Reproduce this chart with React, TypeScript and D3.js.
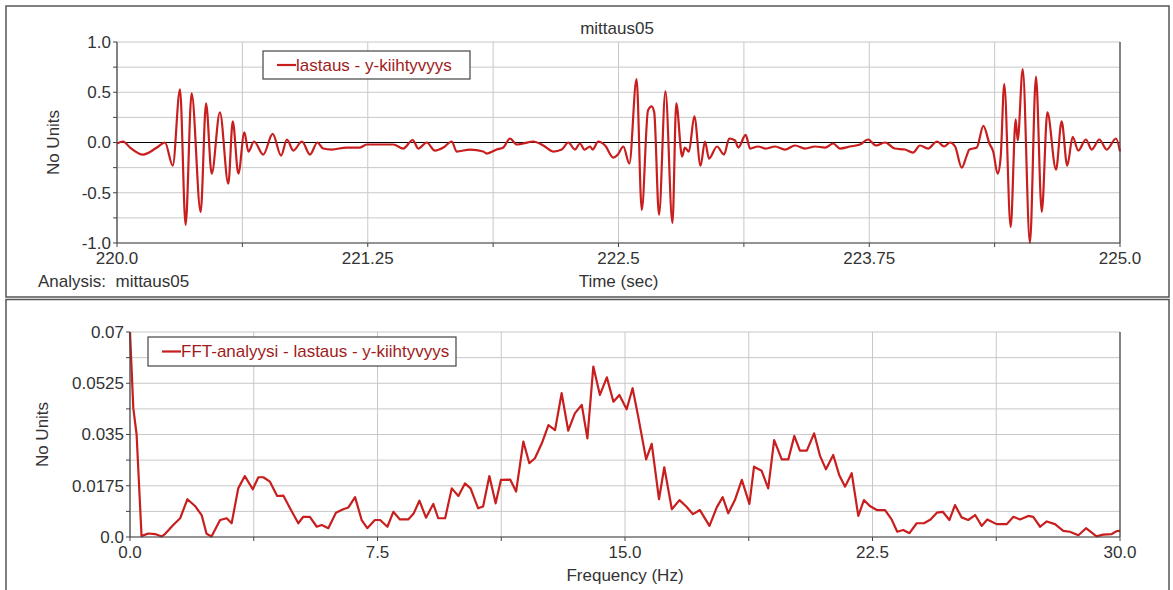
import * as d3 from "d3";
import React from "react";

// top panel: acceleration signal (time, value)
const sigTime = [
  220.0, 220.03, 220.065, 220.13, 220.199, 220.239, 220.278, 220.314, 220.342, 220.372,
  220.417, 220.444, 220.472, 220.513, 220.555, 220.577, 220.605, 220.635, 220.655, 220.683,
  220.729, 220.776, 220.818, 220.847, 220.879, 220.922, 220.962, 220.999, 221.028, 221.07,
  221.145, 221.211, 221.245, 221.295, 221.377, 221.427, 221.474, 221.502, 221.544, 221.585,
  221.627, 221.669, 221.693, 221.76, 221.826, 221.843, 221.893, 221.926, 221.959, 221.993,
  222.025, 222.075, 222.125, 222.175, 222.217, 222.25, 222.283, 222.308, 222.33, 222.358,
  222.371, 222.399, 222.433, 222.474, 222.497, 222.524, 222.554, 222.59, 222.616, 222.647,
  222.665, 222.678, 222.702, 222.734, 222.769, 222.788, 222.817, 222.831, 222.851, 222.878,
  222.909, 222.931, 222.951, 222.991, 223.026, 223.052, 223.081, 223.097, 223.134, 223.156,
  223.195, 223.235, 223.28, 223.33, 223.38, 223.43, 223.48, 223.53, 223.57, 223.604,
  223.654, 223.704, 223.744, 223.784, 223.829, 223.878, 223.928, 223.968, 224.003, 224.043,
  224.088, 224.123, 224.153, 224.178, 224.211, 224.236, 224.249, 224.286, 224.319, 224.349,
  224.368, 224.39, 224.405, 224.423, 224.455, 224.48, 224.49, 224.515, 224.551, 224.581,
  224.61, 224.638, 224.681, 224.709, 224.737, 224.764, 224.792, 224.83, 224.859, 224.897,
  224.934, 224.98, 225.0,
];
const sigValue = [
  -0.01, 0.01, -0.05, -0.12, -0.05, 0.0, -0.23, 0.53, -0.82, 0.49,
  -0.69, 0.39, -0.31, 0.3, -0.41, 0.21, -0.31, 0.1, -0.09, 0.01,
  -0.12, 0.085, -0.13, 0.03, -0.08, 0.01, -0.12, 0.0, -0.06, -0.07,
  -0.05, -0.05, -0.02, -0.02, -0.02, -0.06, 0.025, -0.06, 0.0, -0.08,
  -0.05, 0.01, -0.09, -0.07, -0.09, -0.11, -0.07, -0.05, 0.04, -0.02,
  -0.01, 0.01, -0.03, -0.09, -0.07, 0.0, -0.07, -0.01, -0.07, -0.04,
  -0.07, 0.01, -0.03, -0.15, -0.12, -0.04, -0.21, 0.63, -0.67, 0.32,
  0.36, 0.3, -0.72, 0.51, -0.8, 0.39, -0.14, -0.05, -0.09, 0.26,
  -0.23, 0.01, -0.16, -0.04, -0.12, 0.04, 0.02, -0.05, 0.075, -0.06,
  -0.04, -0.06, -0.04, -0.07, -0.03, -0.06, -0.04, -0.05, -0.01, -0.06,
  -0.04, -0.02, 0.03, -0.03, 0.0, -0.06, -0.07, -0.1, -0.03, -0.06,
  0.01, -0.04, 0.0, -0.04, -0.25, -0.13, -0.07, -0.05, 0.165, -0.01,
  -0.09, -0.31, -0.15, 0.58, -0.84, 0.23, 0.02, 0.73, -1.0, 0.655,
  -0.69, 0.3, -0.27, 0.21, -0.23, 0.055, -0.08, 0.03, -0.07, 0.03,
  -0.07, 0.04, -0.09,
];

// bottom panel: FFT spectrum (frequency, amplitude)
const fftFreq = [
  0.0, 0.1, 0.2, 0.35, 0.55, 0.76, 0.96, 1.06, 1.31, 1.52,
  1.74, 1.97, 2.17, 2.32, 2.47, 2.73, 2.93, 3.08, 3.28, 3.48,
  3.72, 3.89, 4.04, 4.24, 4.46, 4.65, 4.85, 5.1, 5.25, 5.45,
  5.66, 5.81, 6.01, 6.24, 6.46, 6.62, 6.82, 7.02, 7.19, 7.42,
  7.58, 7.8, 7.98, 8.18, 8.43, 8.59, 8.77, 8.97, 9.19, 9.34,
  9.55, 9.75, 9.95, 10.15, 10.32, 10.55, 10.7, 10.89, 11.08, 11.24,
  11.52, 11.7, 11.92, 12.1, 12.27, 12.48, 12.68, 12.88, 13.08, 13.28,
  13.48, 13.69, 13.86, 14.04, 14.24, 14.45, 14.65, 14.83, 15.05, 15.23,
  15.4, 15.64, 15.81, 16.03, 16.19, 16.42, 16.65, 16.85, 17.06, 17.27,
  17.56, 17.78, 17.96, 18.13, 18.33, 18.54, 18.77, 18.91, 19.14, 19.34,
  19.52, 19.75, 19.95, 20.13, 20.3, 20.51, 20.73, 20.91, 21.09, 21.31,
  21.49, 21.67, 21.87, 22.07, 22.24, 22.42, 22.63, 22.88, 23.08, 23.25,
  23.43, 23.62, 23.84, 24.06, 24.26, 24.45, 24.63, 24.83, 25.0, 25.2,
  25.4, 25.61, 25.81, 25.98, 26.26, 26.57, 26.77, 26.97, 27.22, 27.37,
  27.58, 27.78, 28.03, 28.28, 28.48, 28.74, 28.97, 29.29, 29.49, 29.75,
  29.9, 30.0,
];
const fftAmp = [
  0.07, 0.044, 0.035, 0.0003, 0.0012, 0.001, 0.0002, 0.001, 0.0041, 0.0064,
  0.0129, 0.0106, 0.0075, 0.0011, 0.0002, 0.0058, 0.0064, 0.0047, 0.0166, 0.0208,
  0.0163, 0.0204, 0.0204, 0.0189, 0.014, 0.0141, 0.0098, 0.0047, 0.0069, 0.0069,
  0.0035, 0.0041, 0.003, 0.0083, 0.0095, 0.0101, 0.0136, 0.0058, 0.003, 0.0058,
  0.0058, 0.0035, 0.0086, 0.006, 0.006, 0.0079, 0.0124, 0.0066, 0.0113, 0.0064,
  0.0064, 0.0166, 0.014, 0.0183, 0.0166, 0.0098, 0.0104, 0.0208, 0.0115, 0.0195,
  0.0196, 0.0155, 0.0326, 0.0252, 0.0269, 0.032, 0.0382, 0.0365, 0.0491, 0.0363,
  0.0422, 0.0451, 0.0337, 0.0582, 0.0485, 0.0545, 0.0462, 0.0485, 0.0436, 0.0508,
  0.0411, 0.0265, 0.0318, 0.0129, 0.0238, 0.0095, 0.0126, 0.0105, 0.0078, 0.0092,
  0.0038, 0.0101, 0.0136, 0.0081, 0.0126, 0.0195, 0.0113, 0.024, 0.0226, 0.0166,
  0.0331, 0.0265, 0.0265, 0.0345, 0.0295, 0.0295, 0.0354, 0.0277, 0.0231, 0.028,
  0.0212, 0.0172, 0.0218, 0.0072, 0.0126, 0.0106, 0.0092, 0.0092, 0.006, 0.0018,
  0.0024, 0.0013, 0.0047, 0.0047, 0.006, 0.0083, 0.0086, 0.0058, 0.0109, 0.0067,
  0.0058, 0.0075, 0.0038, 0.006, 0.0044, 0.0044, 0.0069, 0.006, 0.0072, 0.0069,
  0.0035, 0.0053, 0.0044, 0.0021, 0.0018, 0.0006, 0.003, 0.0002, 0.0008, 0.001,
  0.002, 0.0021,
];

const timeTicks = [220, 221.25, 222.5, 223.75, 225];
const timeTickLabels = ["220.0", "221.25", "222.5", "223.75", "225.0"];
const accelTicks = [1, 0.5, 0, -0.5, -1];
const accelTickLabels = ["1.0", "0.5", "0.0", "-0.5", "-1.0"];
const freqTicks = [0, 7.5, 15, 22.5, 30];
const freqTickLabels = ["0.0", "7.5", "15.0", "22.5", "30.0"];
const ampTicks = [0.07, 0.0525, 0.035, 0.0175, 0];
const ampTickLabels = ["0.07", "0.0525", "0.035", "0.0175", "0.0"];

const FONT = "'Liberation Sans', Arial, sans-serif";
const FS = 17;
const TXT = "#333";
const GRID = "#c8c8c8";
const AXIS = "#444";
const LINE = "#c81e1e";
const LEG_TXT = "#a01c1c";

function Panel({
  x, y, xTicks, xLabels, yTicks, yLabels, xMinor, yMinor, xs, ys, curve, zeroLine,
  xTitle, yTitleX, legend, legendBox,
}: any) {
  const [x0, x1] = x.range();
  const [yb, yt] = y.range();
  const line = d3
    .line<number>()
    .x((i) => x(xs[i]))
    .y((i) => y(ys[i]))
    .curve(curve);
  const idx = d3.range(xs.length);
  const [lx, ly, lw, lh] = legendBox;
  return (
    <g>
      {xMinor.map((v: number) => (
        <line key={"gx" + v} x1={x(v)} x2={x(v)} y1={yt} y2={yb} stroke={GRID} />
      ))}
      {yMinor.map((v: number) => (
        <line key={"gy" + v} x1={x0} x2={x1} y1={y(v)} y2={y(v)} stroke={GRID} />
      ))}
      {zeroLine && <line x1={x0} x2={x1} y1={y(0)} y2={y(0)} stroke="#000" />}
      <path d={line(idx) || ""} fill="none" stroke={LINE} strokeWidth={2.2} strokeLinejoin="round" />
      <line x1={x0} x2={x0} y1={yt} y2={yb} stroke={AXIS} strokeWidth={1.2} />
      <line x1={x1} x2={x1} y1={yt} y2={yb} stroke={AXIS} strokeWidth={1.2} />
      <line x1={x0} x2={x1} y1={yb} y2={yb} stroke={AXIS} strokeWidth={1.2} />
      {yMinor.map((v: number) => (
        <line key={"ty" + v} x1={x0 - 4} x2={x0} y1={y(v)} y2={y(v)} stroke={AXIS} />
      ))}
      {xMinor.map((v: number) => (
        <line key={"tx" + v} x1={x(v)} x2={x(v)} y1={yb} y2={yb + 4} stroke={AXIS} />
      ))}
      {yTicks.map((v: number, i: number) => (
        <text key={"ly" + v} x={x0 - 6} y={y(v)} dy="0.35em" textAnchor="end" fill={TXT} fontSize={FS}>
          {yLabels[i]}
        </text>
      ))}
      {xTicks.map((v: number, i: number) => (
        <text key={"lx" + v} x={x(v)} y={yb + 21} textAnchor="middle" fill={TXT} fontSize={FS}>
          {xLabels[i]}
        </text>
      ))}
      <text x={(x0 + x1) / 2} y={yb + 44} textAnchor="middle" fill={TXT} fontSize={FS}>
        {xTitle}
      </text>
      <text
        transform={`translate(${yTitleX},${(yt + yb) / 2}) rotate(-90)`}
        textAnchor="middle"
        dy="0.35em"
        fill={TXT}
        fontSize={FS}
      >
        No Units
      </text>
      <rect x={lx} y={ly} width={lw} height={lh} fill="#fff" stroke={AXIS} strokeWidth={1.2} />
      <line x1={lx + 14} x2={lx + 33} y1={ly + lh / 2} y2={ly + lh / 2} stroke={LINE} strokeWidth={2.2} />
      <text x={lx + 33} y={ly + lh / 2} dy="0.35em" fill={LEG_TXT} fontSize={FS}>
        {legend}
      </text>
    </g>
  );
}

export default function App() {
  const xTop = d3.scaleLinear().domain([220, 225]).range([117, 1120]);
  const yTop = d3.scaleLinear().domain([-1, 1]).range([243, 42]);
  const xBot = d3.scaleLinear().domain([0, 30]).range([130, 1120]);
  const yBot = d3.scaleLinear().domain([0, 0.07]).range([537, 332]);

  return (
    <svg
      width={1173}
      height={590}
      style={{ position: "absolute", left: 0, top: 0, background: "#fff" }}
      fontFamily={FONT}
    >
      <rect x={6} y={6} width={1163} height={291} fill="#fff" stroke="#555" strokeWidth={1.5} />
      <rect x={6} y={299.5} width={1163} height={300} fill="#fff" stroke="#555" strokeWidth={1.5} />
      <text x={617} y={28} dy="0.35em" textAnchor="middle" fill={TXT} fontSize={FS}>
        mittaus05
      </text>
      <text x={38} y={281} dy="0.35em" fill={TXT} fontSize={FS} style={{ whiteSpace: "pre" }}>
        {"Analysis:  mittaus05"}
      </text>
      <Panel
        x={xTop}
        y={yTop}
        xTicks={timeTicks}
        xLabels={timeTickLabels}
        yTicks={accelTicks}
        yLabels={accelTickLabels}
        xMinor={d3.range(220, 225.001, 0.625)}
        yMinor={d3.range(-1, 1.001, 0.25)}
        xs={sigTime}
        ys={sigValue}
        curve={d3.curveMonotoneX}
        zeroLine
        xTitle="Time (sec)"
        yTitleX={53}
        legend="lastaus - y-kiihtyvyys"
        legendBox={[263, 51, 207, 28]}
      />
      <Panel
        x={xBot}
        y={yBot}
        xTicks={freqTicks}
        xLabels={freqTickLabels}
        yTicks={ampTicks}
        yLabels={ampTickLabels}
        xMinor={d3.range(0, 30.001, 3.75)}
        yMinor={d3.range(0, 0.07001, 0.00875)}
        xs={fftFreq}
        ys={fftAmp}
        curve={d3.curveLinear}
        zeroLine={false}
        xTitle="Frequency (Hz)"
        yTitleX={42}
        legend="FFT-analyysi - lastaus - y-kiihtyvyys"
        legendBox={[148, 337, 308, 29]}
      />
    </svg>
  );
}
